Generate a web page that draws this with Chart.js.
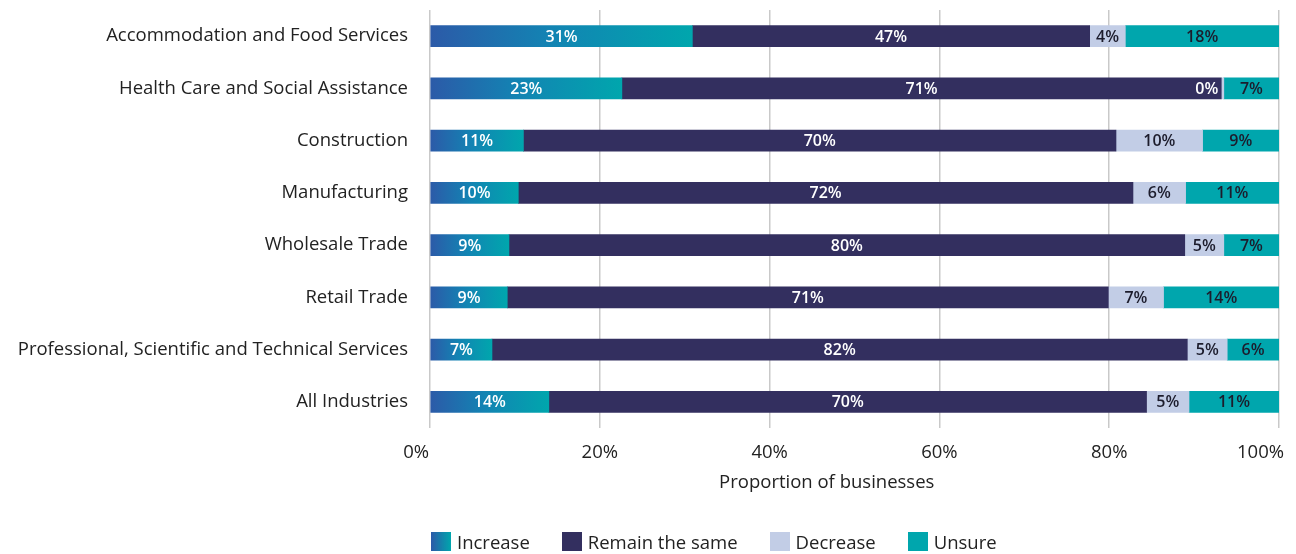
<!DOCTYPE html>
<html>
<head>
<meta charset="utf-8">
<script src="https://cdn.jsdelivr.net/npm/chart.js@4.4.0/dist/chart.umd.min.js"></script>
<style>
  html, body { margin: 0; padding: 0; background: #fff; }
  #wrap { position: relative; width: 1296px; height: 554px; }
  #legend {
    position: absolute; left: 431px; top: 530px; height: 22px;
    display: flex; align-items: center;
    font: 18.5px "Open Sans", sans-serif; color: #222;
  }
  #legend .item { display: flex; align-items: center; margin-right: 32px; }
  #legend .box { width: 20px; height: 19px; margin-right: 6px; }
</style>
</head>
<body>
<div id="wrap">
  <canvas id="chart" width="1296" height="554"></canvas>
  <div id="legend"></div>
</div>
<script>
const industries = [
  'Accommodation and Food Services',
  'Health Care and Social Assistance',
  'Construction',
  'Manufacturing',
  'Wholesale Trade',
  'Retail Trade',
  'Professional, Scientific and Technical Services',
  'All Industries'
];
const seriesNames = ['Increase', 'Remain the same', 'Decrease', 'Unsure'];
const increase   = [30.9, 22.6, 11.0, 10.4,  9.3,  9.1,  7.3, 14.0];
const remainSame = [46.8, 70.6, 69.8, 72.4, 79.6, 70.8, 81.9, 70.4];
const decrease   = [ 4.2,  0.3, 10.2,  6.2,  4.6,  6.5,  4.7,  5.0];
const unsure     = [18.1,  6.5,  9.0, 11.0,  6.5, 13.6,  6.1, 10.6];
const xTickValues = [0, 20, 40, 60, 80, 100];

const FONT = '"Open Sans", sans-serif';
const FSIZE = 18.5;
const TEXT = '#222';
const BLUE = '#2c5aa8';
const TEAL = '#00a6ad';
const NAVY = '#332f5f';
const PALE = '#c2cde6';

// gradient for the "Increase" bars, one per bar from its start to its end
function increaseFill(ctx) {
  const chart = ctx.chart;
  if (!chart.chartArea || ctx.type !== 'data') return TEAL;
  const x = chart.scales.x;
  const x0 = x.getPixelForValue(0);
  const x1 = x.getPixelForValue(ctx.parsed.x);
  const g = chart.ctx.createLinearGradient(x0, 0, x1, 0);
  g.addColorStop(0, BLUE);
  g.addColorStop(0.45, '#1383b3');
  g.addColorStop(1, TEAL);
  return g;
}

const labelColors = ['#ffffff', '#ffffff', '#1c1c2c', '#1c1c2c'];

const barLabels = {
  id: 'barLabels',
  afterDatasetsDraw(chart) {
    const c = chart.ctx;
    c.save();
    c.font = '600 16px ' + FONT;
    c.textBaseline = 'middle';
    chart.data.datasets.forEach((ds, di) => {
      chart.getDatasetMeta(di).data.forEach((bar, i) => {
        const text = Math.round(ds.data[i]) + '%';
        const w = bar.x - bar.base;
        const tw = c.measureText(text).width;
        if (tw + 4 > w) {
          // too narrow (the 0% one): sit it just left of the sliver
          c.fillStyle = '#ffffff';
          c.textAlign = 'right';
          c.fillText(text, bar.base - 3, bar.y + 1);
        } else {
          c.fillStyle = labelColors[di];
          c.textAlign = 'center';
          c.fillText(text, (bar.x + bar.base) / 2, bar.y + 1);
        }
      });
    });
    c.restore();
  }
};

const fills = [increaseFill, NAVY, PALE, TEAL];
const values = [increase, remainSame, decrease, unsure];

new Chart(document.getElementById('chart'), {
  type: 'bar',
  data: {
    labels: industries,
    datasets: seriesNames.map((name, i) => ({
      label: name,
      data: values[i],
      backgroundColor: fills[i],
      borderWidth: 0,
      barThickness: 21
    }))
  },
  options: {
    indexAxis: 'y',
    responsive: false,
    animation: false,
    layout: { padding: { top: 10, right: 17, bottom: 58, left: 0 } },
    plugins: {
      legend: { display: false },
      tooltip: { enabled: false }
    },
    scales: {
      x: {
        stacked: true,
        min: 0,
        max: 100,
        afterBuildTicks: s => { s.ticks = xTickValues.map(v => ({ value: v })); },
        border: { display: false },
        grid: { color: '#c9c9c9', lineWidth: 1.5, drawTicks: false },
        ticks: {
          padding: 14,
          color: TEXT,
          font: { size: FSIZE, family: FONT },
          // end labels sit a little left of their gridlines in the original
          callback: v => v + '%' + (v === 0 ? '\u2002'.repeat(3) : v === 100 ? '\u2002'.repeat(4) : '')
        },
        title: {
          display: true,
          text: 'Proportion of businesses' + '\u2002'.repeat(6),
          color: TEXT,
          font: { size: FSIZE, family: FONT },
          padding: { top: 0, bottom: 2 }
        },
        afterFit: s => { s.paddingLeft = 0; s.paddingRight = 0; s.height = 68; }
      },
      y: {
        stacked: true,
        border: { display: false },
        grid: { display: false, drawTicks: false },
        ticks: { padding: 22, color: TEXT, font: { size: FSIZE, family: FONT } },
        afterFit: s => { s.width = 430; s.paddingTop = 0; s.paddingBottom = 0; }
      }
    }
  },
  plugins: [barLabels]
});

// legend as html so the Increase swatch can show the gradient
const swatches = [
  'linear-gradient(to right, ' + BLUE + ', ' + TEAL + ')',
  NAVY, PALE, TEAL
];
document.getElementById('legend').innerHTML = seriesNames.map((n, i) =>
  '<div class="item"><div class="box" style="background:' + swatches[i] + '"></div>' + n + '</div>'
).join('');
</script>
</body>
</html>
